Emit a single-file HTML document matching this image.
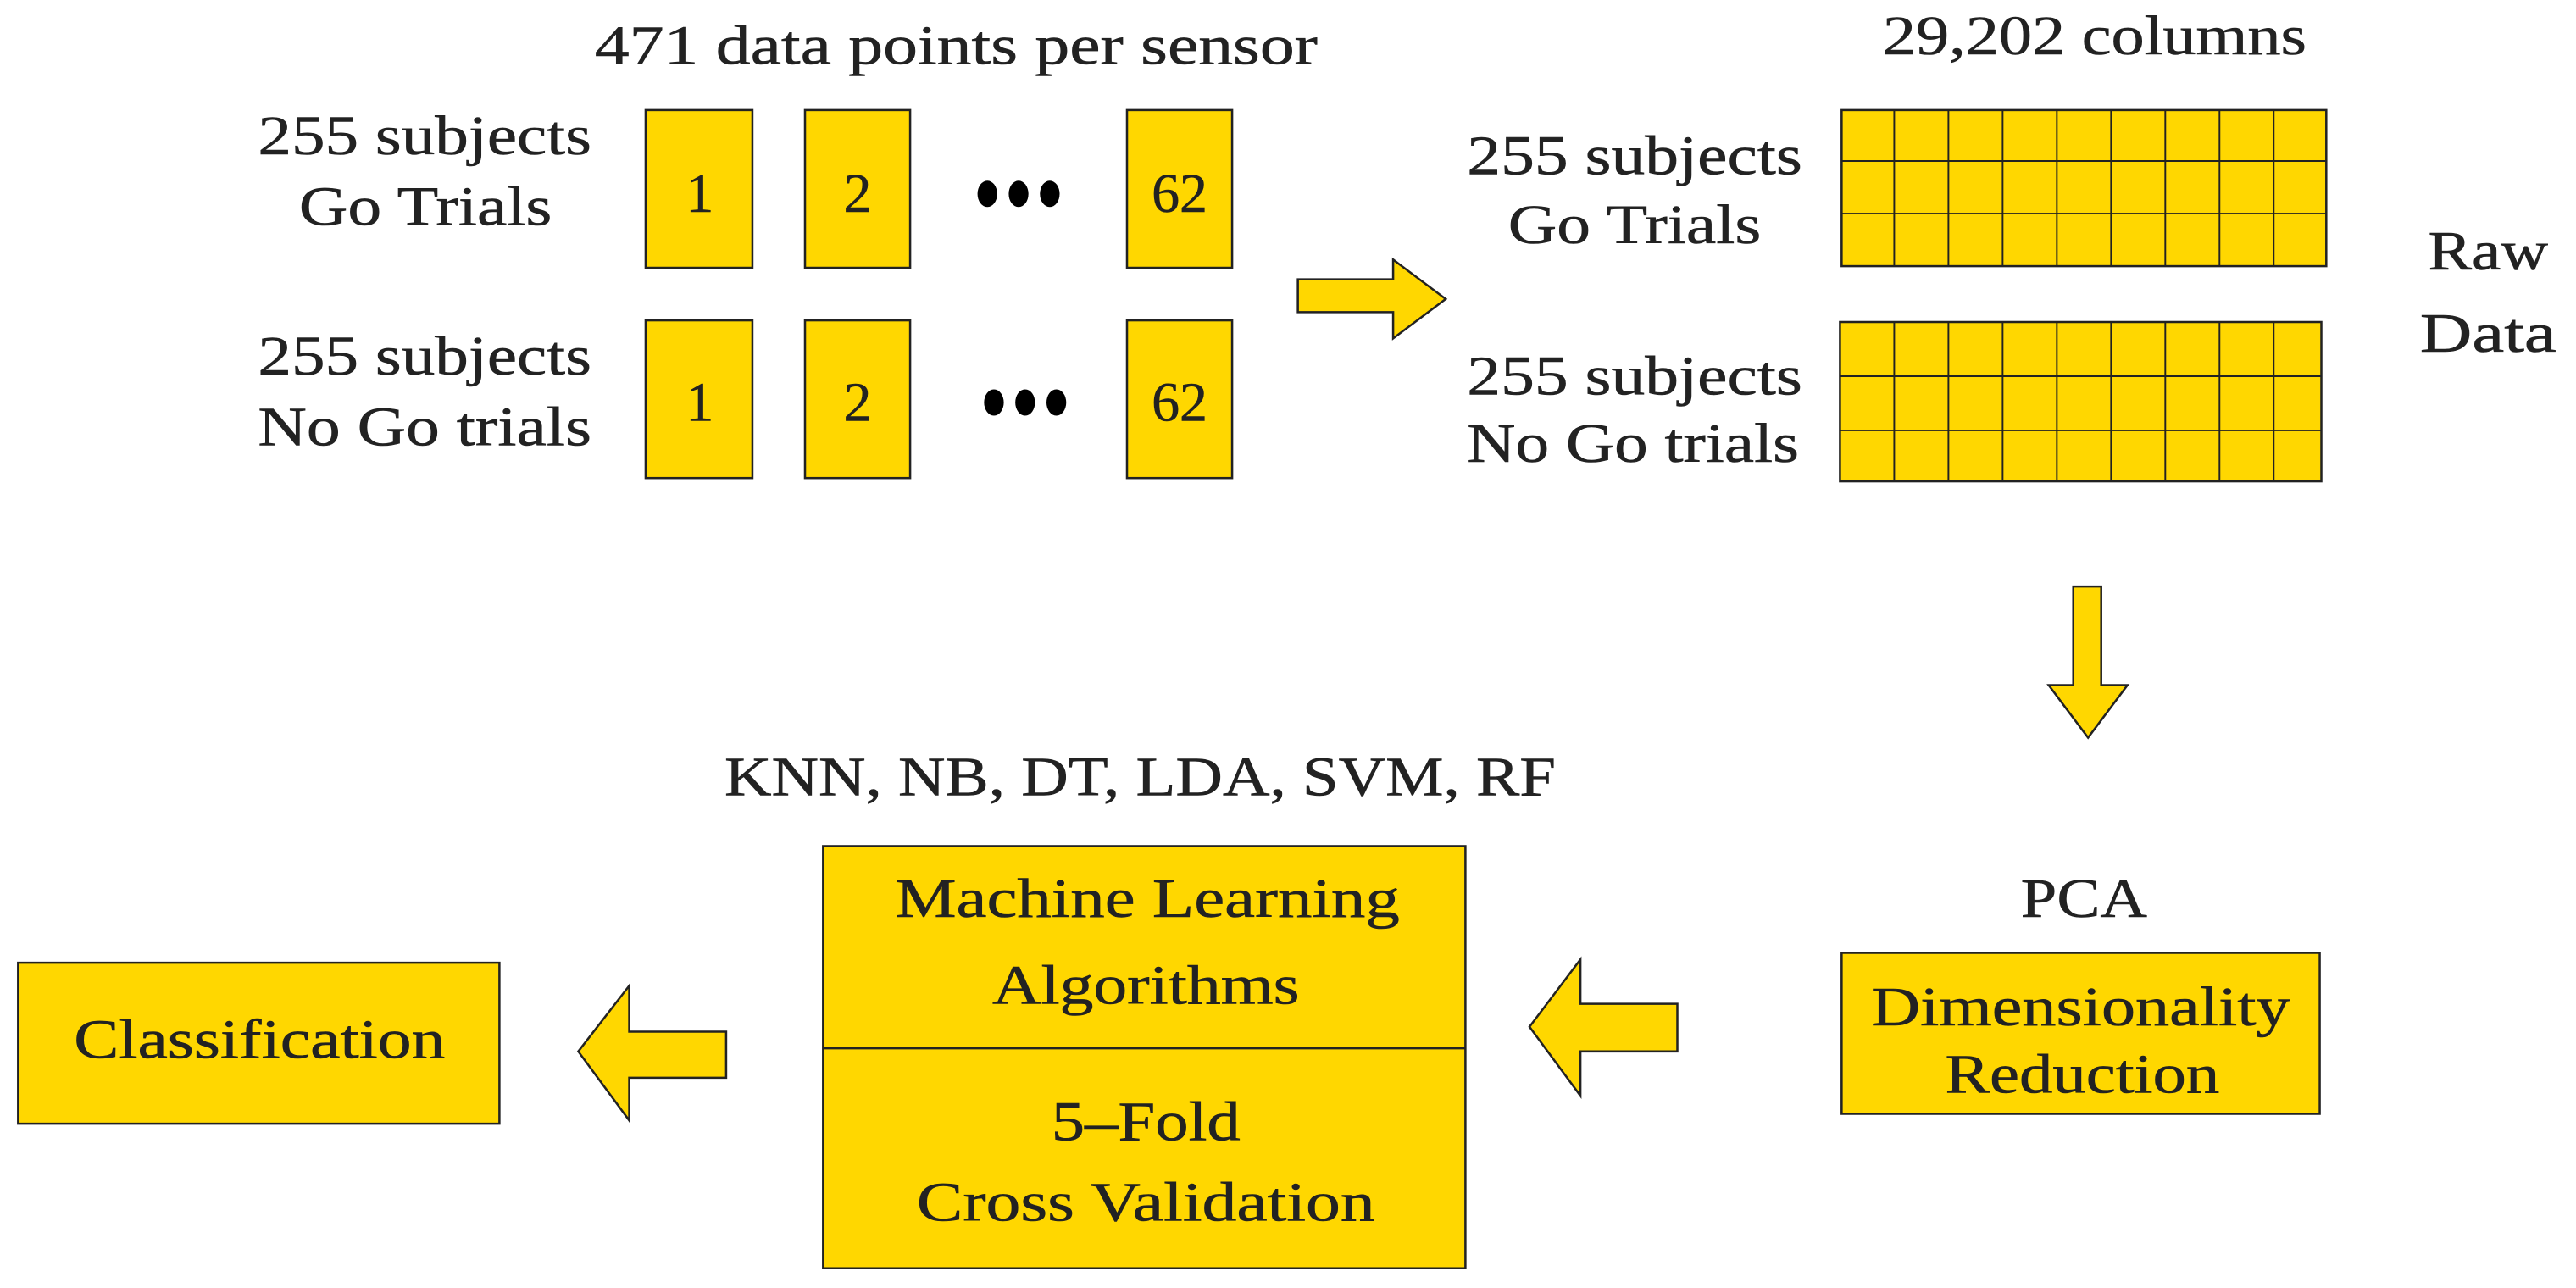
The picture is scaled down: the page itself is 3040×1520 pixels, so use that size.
<!DOCTYPE html>
<html><head><meta charset="utf-8"><style>html,body{margin:0;padding:0;background:#fff}svg{display:block}</style></head>
<body>
<svg width="3040" height="1520" viewBox="0 0 1568 784" preserveAspectRatio="none" xmlns="http://www.w3.org/2000/svg">
<g fill="#FFD700" stroke="#222" stroke-width="1.3">
<rect x="393" y="67" width="65" height="96"/><rect x="490" y="67" width="64" height="96"/><rect x="686" y="67" width="64" height="96"/>
<rect x="393" y="195" width="65" height="96"/><rect x="490" y="195" width="64" height="96"/><rect x="686" y="195" width="64" height="96"/>
<polygon points="790,170 848,170 848,158 880,182 848,206 848,190 790,190"/>
<rect x="1121" y="67" width="295" height="95"/>
<rect x="1120" y="196" width="293" height="97"/>
<polygon points="1262,357 1279,357 1279,417 1295,417 1271,449 1247,417 1262,417"/>
<rect x="501" y="515" width="391" height="257"/>
<rect x="1121" y="580" width="291" height="98"/>
<rect x="11" y="586" width="293" height="98"/>
<polygon points="931,625 962,584 962,611 1021,611 1021,640 962,640 962,667"/>
<polygon points="352,640 383,600 383,628 442,628 442,656 383,656 383,682"/>
</g>
<g stroke="#222" stroke-width="1">
<line x1="1121" y1="98" x2="1416" y2="98"/><line x1="1121" y1="130" x2="1416" y2="130"/>
<line x1="1120" y1="229" x2="1413" y2="229"/><line x1="1120" y1="262" x2="1413" y2="262"/>
<line x1="1153" y1="67" x2="1153" y2="162"/><line x1="1186" y1="67" x2="1186" y2="162"/><line x1="1219" y1="67" x2="1219" y2="162"/><line x1="1252" y1="67" x2="1252" y2="162"/><line x1="1285" y1="67" x2="1285" y2="162"/><line x1="1318" y1="67" x2="1318" y2="162"/><line x1="1351" y1="67" x2="1351" y2="162"/><line x1="1384" y1="67" x2="1384" y2="162"/>
<line x1="1153" y1="196" x2="1153" y2="293"/><line x1="1186" y1="196" x2="1186" y2="293"/><line x1="1219" y1="196" x2="1219" y2="293"/><line x1="1252" y1="196" x2="1252" y2="293"/><line x1="1285" y1="196" x2="1285" y2="293"/><line x1="1318" y1="196" x2="1318" y2="293"/><line x1="1351" y1="196" x2="1351" y2="293"/><line x1="1384" y1="196" x2="1384" y2="293"/>
<line x1="501" y1="638" x2="892" y2="638" stroke-width="1.5"/>
</g>
<g fill="#000">
<ellipse cx="601" cy="118" rx="6" ry="8"/><ellipse cx="620" cy="118" rx="6" ry="8"/><ellipse cx="639" cy="118" rx="6" ry="8"/>
<ellipse cx="605" cy="245" rx="6" ry="8"/><ellipse cx="624" cy="245" rx="6" ry="8"/><ellipse cx="643" cy="245" rx="6" ry="8"/>
</g>
<g font-family="'Liberation Serif',serif" font-size="34" fill="#222" stroke="#222" stroke-width="0.3">
<text x="362" y="39" textLength="440" lengthAdjust="spacingAndGlyphs">471 data points per sensor</text>
<text x="157" y="94" textLength="203" lengthAdjust="spacingAndGlyphs">255 subjects</text>
<text x="182" y="137" textLength="154" lengthAdjust="spacingAndGlyphs">Go Trials</text>
<text x="157" y="228" textLength="203" lengthAdjust="spacingAndGlyphs">255 subjects</text>
<text x="157" y="271" textLength="203" lengthAdjust="spacingAndGlyphs">No Go trials</text>
<text x="426" y="129" text-anchor="middle">1</text><text x="522" y="129" text-anchor="middle">2</text><text x="718" y="129" text-anchor="middle">62</text>
<text x="426" y="256" text-anchor="middle">1</text><text x="522" y="256" text-anchor="middle">2</text><text x="718" y="256" text-anchor="middle">62</text>
<text x="1146" y="33" textLength="258" lengthAdjust="spacingAndGlyphs">29,202 columns</text>
<text x="893" y="106" textLength="204" lengthAdjust="spacingAndGlyphs">255 subjects</text>
<text x="918" y="148" textLength="154" lengthAdjust="spacingAndGlyphs">Go Trials</text>
<text x="893" y="240" textLength="204" lengthAdjust="spacingAndGlyphs">255 subjects</text>
<text x="893" y="281" textLength="202" lengthAdjust="spacingAndGlyphs">No Go trials</text>
<text x="1478" y="164" textLength="73" lengthAdjust="spacingAndGlyphs">Raw</text>
<text x="1473" y="214" textLength="83" lengthAdjust="spacingAndGlyphs">Data</text>
<text x="441" y="484" textLength="506" lengthAdjust="spacingAndGlyphs">KNN, NB, DT, LDA, SVM, RF</text>
<text x="545" y="558" textLength="307" lengthAdjust="spacingAndGlyphs">Machine Learning</text>
<text x="604" y="611" textLength="187" lengthAdjust="spacingAndGlyphs">Algorithms</text>
<text x="640" y="694" textLength="115" lengthAdjust="spacingAndGlyphs">5–Fold</text>
<text x="558" y="743" textLength="279" lengthAdjust="spacingAndGlyphs">Cross Validation</text>
<text x="1230" y="558" textLength="77" lengthAdjust="spacingAndGlyphs">PCA</text>
<text x="1139" y="624" textLength="255" lengthAdjust="spacingAndGlyphs">Dimensionality</text>
<text x="1184" y="665" textLength="167" lengthAdjust="spacingAndGlyphs">Reduction</text>
<text x="45" y="644" textLength="226" lengthAdjust="spacingAndGlyphs">Classification</text>
</g>
</svg>
</body></html>
